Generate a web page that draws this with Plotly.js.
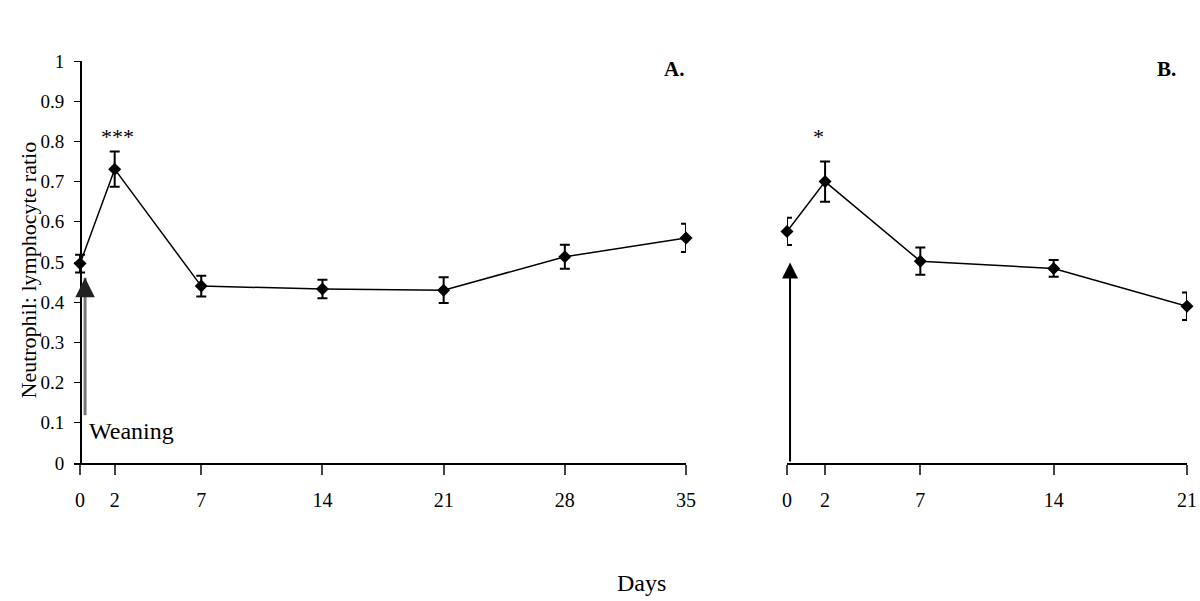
<!DOCTYPE html>
<html>
<head>
<meta charset="utf-8">
<script src="https://cdn.plot.ly/plotly-3.0.1.min.js"></script>
<style>html,body{margin:0;padding:0;background:#fff;}#chart{width:1200px;height:601px;}</style>
</head>
<body>
<div id="chart"></div>
<script>
// Panel A: weaning
const daysA = [0, 2, 7, 14, 21, 28, 35];
const ratioA = [0.496, 0.731, 0.44, 0.433, 0.43, 0.513, 0.56];
const errA = [0.022, 0.044, 0.026, 0.023, 0.032, 0.030, 0.035];
// Panel B: housing
const daysB = [0, 2, 7, 14, 21];
const ratioB = [0.576, 0.70, 0.502, 0.484, 0.39];
const errB = [0.034, 0.050, 0.034, 0.021, 0.034];
// Tick labels
const tickDaysA = [0, 2, 7, 14, 21, 28, 35];
const tickDaysB = [0, 2, 7, 14, 21];
const yTickVals = [0, 0.1, 0.2, 0.3, 0.4, 0.5, 0.6, 0.7, 0.8, 0.9, 1];
const yTickText = ['0', '0.1', '0.2', '0.3', '0.4', '0.5', '0.6', '0.7', '0.8', '0.9', '1'];

const FONT = "'Liberation Serif', 'Times New Roman', 'DejaVu Serif', serif";

const common = {
  type: 'scatter', mode: 'lines+markers', cliponaxis: false,
  line: {color: '#000', width: 1.5},
  marker: {symbol: 'diamond', size: 10, color: '#000'},
  showlegend: false, hoverinfo: 'x+y'
};

const traces = [
  Object.assign({}, common, {
    x: daysA, y: ratioA, xaxis: 'x', yaxis: 'y',
    error_y: {type: 'data', array: errA, visible: true, color: '#000', thickness: 2, width: 5}
  }),
  Object.assign({}, common, {
    x: daysB, y: ratioB, xaxis: 'x2', yaxis: 'y',
    error_y: {type: 'data', array: errB, visible: true, color: '#000', thickness: 2, width: 5}
  })
];

const xCommon = {
  showgrid: false, zeroline: false, showline: true, linecolor: '#000', linewidth: 1.5,
  ticks: 'outside', ticklen: 10, tickwidth: 2, tickcolor: '#444',
  tickfont: {family: FONT, size: 20, color: '#000'}, ticklabelstandoff: 8,
  tickmode: 'array', fixedrange: true
};

const layout = {
  width: 1200, height: 601,
  margin: {l: 74, r: 13, t: 61, b: 138},
  paper_bgcolor: '#fff', plot_bgcolor: '#fff',
  font: {family: FONT, color: '#000'},
  xaxis: Object.assign({}, xCommon, {
    domain: [0, 0.5499], range: [-0.35, 35], anchor: 'y',
    tickvals: tickDaysA, ticktext: tickDaysA.map(String)
  }),
  xaxis2: Object.assign({}, xCommon, {
    domain: [0.6406, 1], range: [0, 21], anchor: 'y',
    tickvals: tickDaysB, ticktext: tickDaysB.map(String)
  }),
  yaxis: {
    range: [0, 1], anchor: 'free', position: 0.0054,
    showgrid: false, zeroline: false, showline: true, linecolor: '#000', linewidth: 1.5,
    ticks: 'outside', ticklen: 6, tickwidth: 1, tickcolor: '#000',
    tickmode: 'array', tickvals: yTickVals, ticktext: yTickText,
    tickfont: {family: FONT, size: 19, color: '#000'}, ticklabelstandoff: 6,
    fixedrange: true
  },
  annotations: [
    {xref: 'paper', yref: 'y', x: -0.0413, y: 0.479, text: 'Neutrophil: lymphocyte ratio',
     textangle: -90, showarrow: false, xanchor: 'center', yanchor: 'middle',
     font: {family: FONT, size: 22, color: '#000'}},
    {xref: 'paper', yref: 'paper', x: 0.5103, y: -0.2985, text: 'Days', showarrow: false,
     xanchor: 'center', yanchor: 'middle', font: {family: FONT, size: 24, color: '#000'}},
    {xref: 'x', yref: 'y', x: 34.3, y: 0.98, text: '<b>A.</b>', showarrow: false,
     xanchor: 'center', yanchor: 'middle', font: {family: FONT, size: 21, color: '#000'}},
    {xref: 'x2', yref: 'y', x: 19.9, y: 0.98, text: '<b>B.</b>', showarrow: false,
     xanchor: 'center', yanchor: 'middle', font: {family: FONT, size: 21, color: '#000'}},
    {xref: 'x', yref: 'y', x: 2.14, y: 0.813, text: '***', showarrow: false,
     xanchor: 'center', yanchor: 'middle', font: {family: FONT, size: 22, color: '#000'}},
    {xref: 'x2', yref: 'y', x: 1.68, y: 0.813, text: '*', showarrow: false,
     xanchor: 'center', yanchor: 'middle', font: {family: FONT, size: 22, color: '#000'}},
    {xref: 'x', yref: 'y', x: 0.4, y: 0.08, text: 'Weaning', showarrow: false,
     xanchor: 'left', yanchor: 'middle', font: {family: FONT, size: 24, color: '#000'}},
    {xref: 'x2', yref: 'y', x: -0.42, y: 0.08, text: 'Housing', showarrow: false,
     xanchor: 'left', yanchor: 'middle', font: {family: FONT, size: 24, color: '#000'}},
    // arrows
    {xref: 'x', yref: 'y', x: 0.29, y: 0.461, axref: 'x', ayref: 'y', ax: 0.29, ay: 0.115,
     text: '', showarrow: true, arrowhead: 0, arrowwidth: 3, arrowcolor: '#777', standoff: 0},
    {xref: 'x', yref: 'y', x: 0.29, y: 0.461, axref: 'x', ayref: 'y', ax: 0.29, ay: 0.43,
     text: '', showarrow: true, arrowhead: 2, arrowsize: 1.3, arrowwidth: 3, arrowcolor: '#222', standoff: 0},
    {xref: 'x2', yref: 'y', x: 0.16, y: 0.499, axref: 'x2', ayref: 'y', ax: 0.16, ay: 0.0,
     text: '', showarrow: true, arrowhead: 2, arrowsize: 1.6, arrowwidth: 2, arrowcolor: '#000', standoff: 0}
  ]
};

Plotly.newPlot('chart', traces, layout, {displayModeBar: false, staticPlot: true});
</script>
</body>
</html>
